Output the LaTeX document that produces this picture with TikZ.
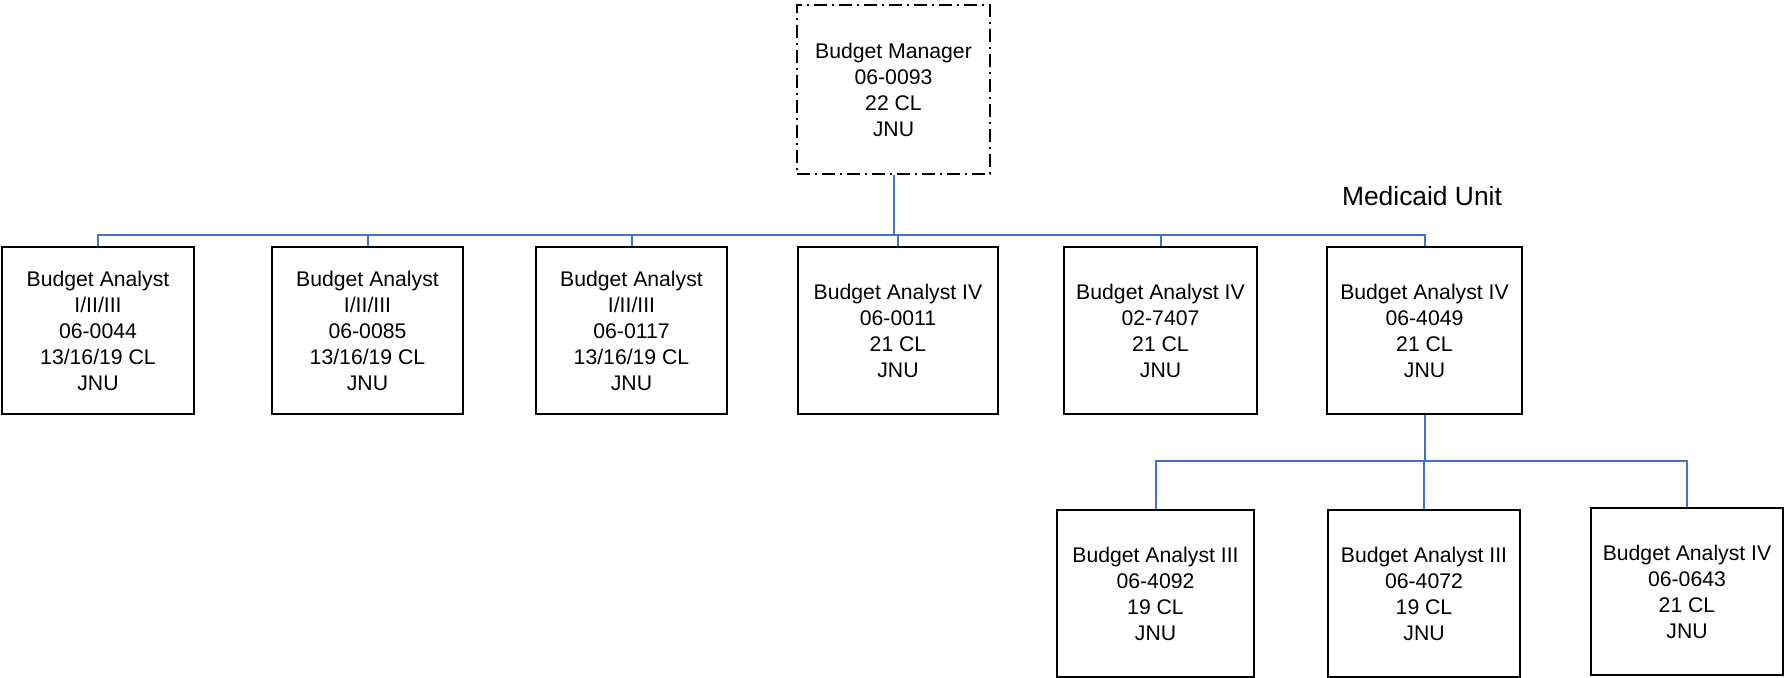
\documentclass[tikz,border=0pt]{standalone}
\usepackage{fontspec}
\setmainfont{Liberation Sans}
\definecolor{connblue}{HTML}{4472C4}
\begin{document}
\begin{tikzpicture}[x=0.5pt,y=-0.5pt,
  box/.style={draw=black,line width=1pt,inner sep=0pt,align=center,
    font=\fontsize{10.6}{13}\selectfont,minimum height=83.5pt},
  topbox/.style={box,dash pattern=on 6.5pt off 2.5pt on 1pt off 2.5pt},
  conn/.style={draw=connblue,line width=1pt}]
\useasboundingbox (0,0) rectangle (1784,678);
\node[topbox,minimum width=96.5pt,minimum height=84.5pt] (mgr) at (893.5,89.5) {Budget Manager\\06-0093\\22 CL\\JNU};
\node[font=\fontsize{13.2}{16}\selectfont] (unit) at (1422,196) {Medicaid Unit};
\node[box,minimum width=96pt] (b1) at (98,330.5) {Budget Analyst\\I/II/III\\06-0044\\13/16/19 CL\\JNU};
\node[box,minimum width=95.5pt] (b2) at (367.5,330.5) {Budget Analyst\\I/II/III\\06-0085\\13/16/19 CL\\JNU};
\node[box,minimum width=95.5pt] (b3) at (631.5,330.5) {Budget Analyst\\I/II/III\\06-0117\\13/16/19 CL\\JNU};
\node[box,minimum width=100pt] (b4) at (898,330.5) {Budget Analyst IV\\06-0011\\21 CL\\JNU};
\node[box,minimum width=96.5pt] (b5) at (1160.5,330.5) {Budget Analyst IV\\02-7407\\21 CL\\JNU};
\node[box,minimum width=97.5pt] (b6) at (1424.5,330.5) {Budget Analyst IV\\06-4049\\21 CL\\JNU};
\node[box,minimum width=98.5pt] (c1) at (1155.5,593.5) {Budget Analyst III\\06-4092\\19 CL\\JNU};
\node[box,minimum width=96pt] (c2) at (1424,593.5) {Budget Analyst III\\06-4072\\19 CL\\JNU};
\node[box,minimum width=96pt] (c3) at (1687,591.5) {Budget Analyst IV\\06-0643\\21 CL\\JNU};
\coordinate (busA) at (893.5,235);
\coordinate (busB) at (1424.5,461);
\draw[conn] (mgr.south) -- (busA);
\foreach \n in {b1,b2,b3,b4,b5,b6} \draw[conn] (busA) -| (\n.north);
\draw[conn] (b6.south) -- (busB);
\foreach \n in {c1,c2,c3} \draw[conn] (busB) -| (\n.north);
\end{tikzpicture}
\end{document}
